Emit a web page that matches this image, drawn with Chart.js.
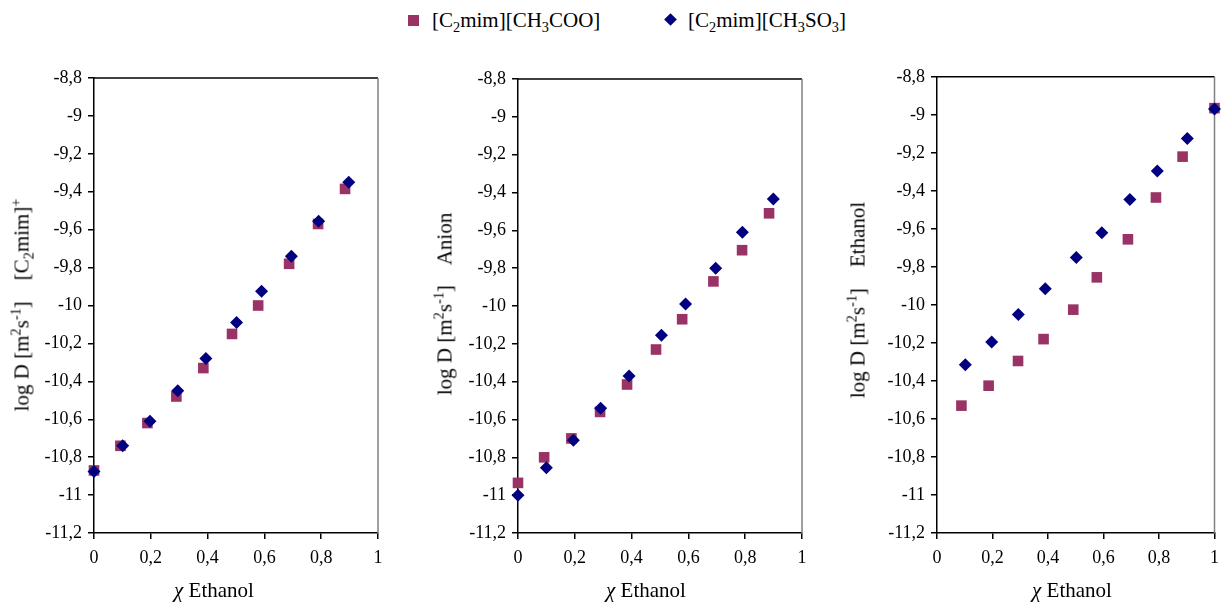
<!DOCTYPE html>
<html>
<head>
<meta charset="utf-8">
<script src="https://cdn.jsdelivr.net/npm/chart.js@4.4.1/dist/chart.umd.min.js"></script>
<style>
  body { margin: 0; background: #fff; font-family: "Liberation Serif", "Times New Roman", serif; color: #000; }
  #page { position: relative; width: 1227px; height: 603px; overflow: hidden; }
  .box { position: absolute; }
  .lbl { position: absolute; white-space: nowrap; font-size: 21px; line-height: 1; }
  .rot { transform: translate(-50%, -50%) rotate(-90deg); }
  .ctr { transform: translate(-50%, -50%); }
  sub, sup { font-size: 0.68em; line-height: 0; }
  .mk { position: absolute; }
</style>
</head>
<body>
<div id="page">
  <!-- legende -->
  <div class="mk" style="left:408px;top:15px;width:11px;height:11px;background:#993366"></div>
  <div class="lbl" style="left:432px;top:10px">[C<sub>2</sub>mim][CH<sub>3</sub>COO]</div>
  <div class="mk" style="left:666px;top:15px;width:9px;height:9px;background:#000080;transform:rotate(45deg)"></div>
  <div class="lbl" style="left:688px;top:10px">[C<sub>2</sub>mim][CH<sub>3</sub>SO<sub>3</sub>]</div>

  <div class="box" style="left:0;top:60px;width:400px;height:543px"><canvas id="c1"></canvas></div>
  <div class="box" style="left:420px;top:60px;width:400px;height:543px"><canvas id="c2"></canvas></div>
  <div class="box" style="left:840px;top:60px;width:387px;height:543px"><canvas id="c3"></canvas></div>

  <!-- titres des axes -->
  <div class="lbl rot" style="left:22px;top:305px">log D [m<sup>2</sup>s<sup>-1</sup>]&nbsp;&nbsp;&nbsp; [C<sub>2</sub>mim]<sup>+</sup></div>
  <div class="lbl rot" style="left:445px;top:304px">log D [m<sup>2</sup>s<sup>-1</sup>]&nbsp;&nbsp;&nbsp; Anion</div>
  <div class="lbl rot" style="left:858px;top:300px">log D [m<sup>2</sup>s<sup>-1</sup>]&nbsp;&nbsp;&nbsp; Ethanol</div>
  <div class="lbl ctr" style="left:214px;top:590px"><i>χ</i> Ethanol</div>
  <div class="lbl ctr" style="left:646px;top:590px"><i>χ</i> Ethanol</div>
  <div class="lbl ctr" style="left:1072px;top:590px"><i>χ</i> Ethanol</div>
</div>

<script>
// Données
const xTicks = [0, 0.2, 0.4, 0.6, 0.8, 1];
const yMin = -11.2, yMax = -8.8, yStep = 0.2;

// Cation [C2mim]+
const catX_acetate = [0, 0.093, 0.188, 0.29, 0.385, 0.486, 0.578, 0.687, 0.789, 0.884];
const catY_acetate = [-10.87, -10.74, -10.62, -10.48, -10.33, -10.15, -10.0, -9.78, -9.57, -9.385];
const catX_mesylate = [0, 0.101, 0.197, 0.295, 0.394, 0.502, 0.59, 0.695, 0.791, 0.897];
const catY_mesylate = [-10.875, -10.74, -10.61, -10.45, -10.28, -10.09, -9.925, -9.74, -9.555, -9.35];

// Anion
const anX_acetate = [0, 0.092, 0.188, 0.289, 0.384, 0.486, 0.578, 0.688, 0.789, 0.884];
const anY_acetate = [-10.935, -10.8, -10.7, -10.56, -10.415, -10.23, -10.07, -9.87, -9.705, -9.51];
const anX_mesylate = [0, 0.1, 0.195, 0.291, 0.391, 0.505, 0.59, 0.696, 0.79, 0.899];
const anY_mesylate = [-11.0, -10.855, -10.71, -10.54, -10.37, -10.155, -9.99, -9.8, -9.61, -9.435];

// Ethanol
const etX_acetate = [0.088, 0.186, 0.292, 0.384, 0.491, 0.576, 0.688, 0.789, 0.885, 1.0];
const etY_acetate = [-10.53, -10.425, -10.295, -10.18, -10.025, -9.855, -9.655, -9.435, -9.22, -8.965];
const etX_mesylate = [0.102, 0.197, 0.293, 0.39, 0.502, 0.594, 0.695, 0.794, 0.902, 1.0];
const etY_mesylate = [-10.315, -10.195, -10.05, -9.915, -9.75, -9.62, -9.445, -9.295, -9.125, -8.97];

const colAcetate = '#993366';
const colMesylate = '#000080';

Chart.defaults.font.family = 'Liberation Serif';

const fmt = v => String(Math.round(v * 10) / 10).replace('.', ',');
const pts = (xs, ys) => xs.map((x, i) => ({ x: x, y: ys[i] }));

// cadre du graphique (haut noir, droite gris)
const frame = {
    id: 'frame',
    beforeDatasetsDraw(chart) {
        const a = chart.chartArea, ctx = chart.ctx;
        ctx.save();
        ctx.lineWidth = 1.5;
        ctx.strokeStyle = '#000';
        ctx.beginPath();
        ctx.moveTo(a.left, a.top);
        ctx.lineTo(a.right, a.top);
        ctx.stroke();
        ctx.strokeStyle = '#808080';
        ctx.beginPath();
        ctx.moveTo(a.right, a.top);
        ctx.lineTo(a.right, a.bottom);
        ctx.stroke();
        ctx.restore();
    }
};

const makeChart = (id, acetate, mesylate, yWidth, padTop, padRight) => {
    const ctx = document.getElementById(id).getContext('2d');
    return new Chart(ctx, {
        type: 'scatter',
        data: {
            datasets: [{
                label: '[C2mim][CH3SO3]',
                data: mesylate,
                pointStyle: 'rectRot',
                pointRadius: 6.5,
                pointHoverRadius: 6.5,
                backgroundColor: colMesylate,
                borderColor: colMesylate,
                borderWidth: 0,
                order: 0
            }, {
                label: '[C2mim][CH3COO]',
                data: acetate,
                pointStyle: 'rect',
                pointRadius: 7.5,
                pointHoverRadius: 7.5,
                backgroundColor: colAcetate,
                borderColor: colAcetate,
                borderWidth: 0,
                order: 1
            }]
        },
        options: {
            responsive: true,
            maintainAspectRatio: false,
            animation: false,
            clip: false,
            layout: { padding: { top: padTop, right: padRight, left: 0, bottom: 0 } },
            plugins: { legend: { display: false }, tooltip: { enabled: false } },
            scales: {
                x: {
                    type: 'linear',
                    min: 0, max: 1,
                    afterBuildTicks: s => { s.ticks = xTicks.map(v => ({ value: v })); },
                    afterFit: s => { s.height = 70; },
                    ticks: {
                        callback: v => fmt(v),
                        color: '#000',
                        font: { family: 'Liberation Serif', size: 18 },
                        padding: 8,
                        maxRotation: 0
                    },
                    grid: { drawOnChartArea: false, drawTicks: true, tickLength: 6, color: '#000', lineWidth: 1.5 },
                    border: { color: '#000', width: 1.5 }
                },
                y: {
                    min: yMin, max: yMax,
                    ticks: {
                        stepSize: yStep,
                        callback: v => fmt(v),
                        color: '#000',
                        font: { family: 'Liberation Serif', size: 18 },
                        padding: 6
                    },
                    afterFit: s => { s.width = yWidth; },
                    grid: { drawOnChartArea: false, drawTicks: true, tickLength: 6, color: '#000', lineWidth: 1.5 },
                    border: { color: '#000', width: 1.5 }
                }
            }
        },
        plugins: [frame]
    });
};

makeChart('c1', pts(catX_acetate, catY_acetate), pts(catX_mesylate, catY_mesylate), 94, 18, 22);
makeChart('c2', pts(anX_acetate, anY_acetate), pts(anX_mesylate, anY_mesylate), 98, 19, 18);
makeChart('c3', pts(etX_acetate, etY_acetate), pts(etX_mesylate, etY_mesylate), 97, 16, 6);
</script>
</body>
</html>
